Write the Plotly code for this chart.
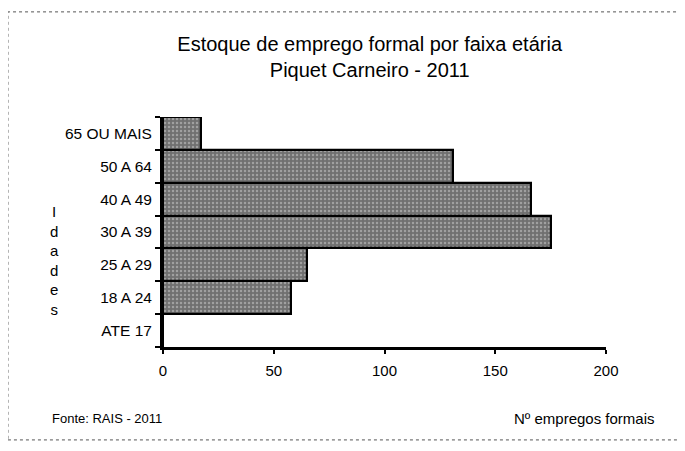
import plotly.graph_objects as go

categories = ["ATE 17", "18 A 24", "25 A 29", "30 A 39", "40 A 49", "50 A 64", "65 OU MAIS"]
values = [0, 58, 65, 175, 166, 131, 17]
x_ticks = [0, 50, 100, 150, 200]

FONT = "Liberation Sans, Arial, sans-serif"

fig = go.Figure()
fig.add_trace(go.Bar(
    y=categories, x=values, orientation="h",
    marker=dict(
        color="#808080",
        line=dict(color="black", width=2.2),
        pattern=dict(shape=".", fgcolor="#d0d0d0", bgcolor="#707070", size=4, solidity=0.3),
    ),
    showlegend=False,
))

fig.update_layout(
    width=685, height=451,
    margin=dict(l=155, r=87, t=109, b=112),
    paper_bgcolor="white", plot_bgcolor="white",
    bargap=0,
    font=dict(family=FONT, color="black"),
    title=dict(
        text="Estoque de emprego formal por faixa etária<br>Piquet Carneiro - 2011",
        x=0.528, xanchor="center", y=0.905, yanchor="top",
        font=dict(size=20, family=FONT, color="black"),
    ),
    xaxis=dict(
        range=[0, 200], tickvals=x_ticks, ticktext=[str(v) for v in x_ticks],
        showgrid=False, zeroline=False,
        showline=True, linecolor="black", linewidth=2.5,
        ticks="outside", ticklen=4, tickcolor="black", tickwidth=1.5,
        tickfont=dict(size=15, family=FONT),
        ticklabelstandoff=4,
    ),
    yaxis=dict(
        type="category", categoryorder="array", categoryarray=categories,
        showgrid=False, zeroline=False,
        showline=True, linecolor="black", linewidth=3,
        ticks="outside", tickson="boundaries", ticklen=5, tickcolor="black", tickwidth=1.5,
        tickfont=dict(size=15.5, family=FONT),
        ticklabelstandoff=5,
    ),
    shapes=[dict(type="rect", xref="paper", yref="paper",
                 x0=-0.35, x1=1.167, y0=-0.404, y1=1.457,
                 line=dict(color="#555", width=1, dash="dot"))],
    annotations=[
        dict(text="I<br>d<br>a<br>d<br>e<br>s", xref="paper", yref="paper",
             x=-0.246, y=0.378, xanchor="center", yanchor="middle", showarrow=False,
             font=dict(size=15, family=FONT), align="center"),
        dict(text="Fonte: RAIS - 2011", xref="paper", yref="paper",
             x=-0.255, y=-0.309, xanchor="left", yanchor="middle", showarrow=False,
             font=dict(size=13, family=FONT)),
        dict(text="Nº empregos formais", xref="paper", yref="paper",
             x=1.115, y=-0.309, xanchor="right", yanchor="middle", showarrow=False,
             font=dict(size=15, family=FONT)),
    ],
)

fig.write_html("out.html")
